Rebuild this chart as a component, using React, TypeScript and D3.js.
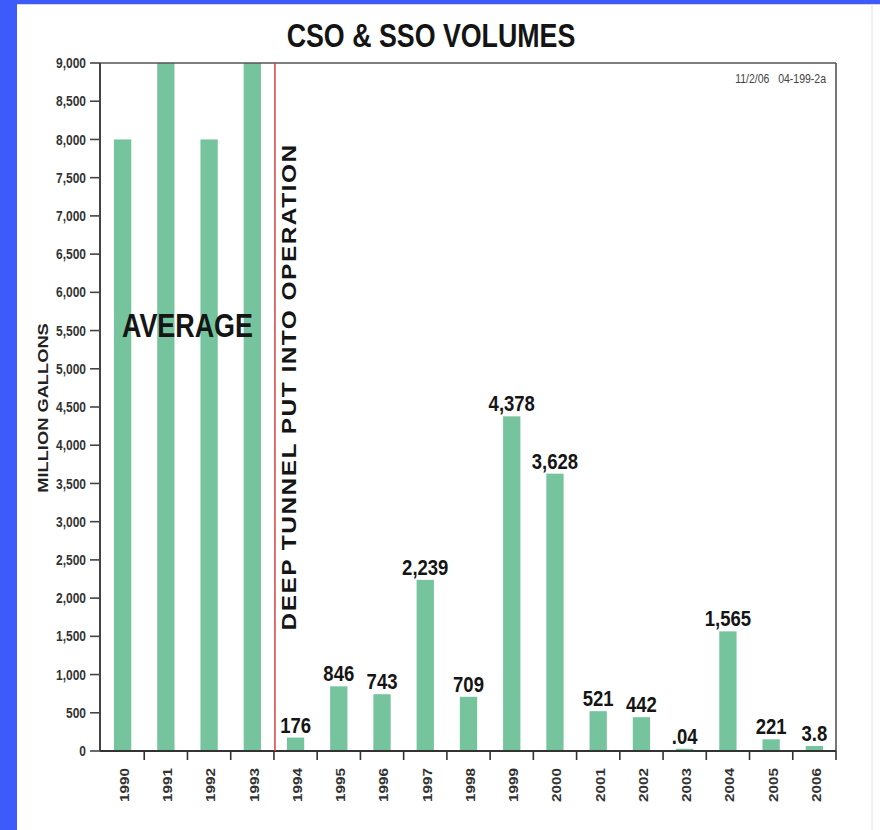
import React from "react";
import * as d3 from "d3";

const years = ["1990","1991","1992","1993","1994","1995","1996","1997","1998","1999","2000","2001","2002","2003","2004","2005","2006"];
const barValues = [8000, 9000, 8000, 9000, 176, 846, 743, 2239, 709, 4378, 3628, 521, 442, 30, 1565, 153, 65];
const valueLabels = ["", "", "", "", "176", "846", "743", "2,239", "709", "4,378", "3,628", "521", "442", ".04", "1,565", "221", "3.8"];
const yTicks = d3.range(0, 9001, 500);
const title = "CSO & SSO VOLUMES";
const yTitle = "MILLION GALLONS";
const eventLabel = "DEEP TUNNEL PUT INTO OPERATION";
const eventAfter = "1993";
const averageLabel = "AVERAGE";
const stamp = "11/2/06   04-199-2a";

const K = 1.22;
const FONT = "'Liberation Sans', Arial, Helvetica, sans-serif";

function T({ x, y, rot, children, ...rest }: any) {
  const tr = `translate(${x},${y}) scale(1,${K})${rot ? " rotate(-90)" : ""}`;
  return (
    <text transform={tr} fontFamily={FONT} {...rest}>
      {children}
    </text>
  );
}

export default function App() {
  const W = 880, H = 830;
  const left = 101, right = 836, top = 63, bottom = 751;
  const x = d3.scaleBand<string>().domain(years).range([left, right]).paddingInner(0.6).paddingOuter(0.3);
  const y = d3.scaleLinear().domain([0, 9000]).range([bottom, top]);
  const step = x.step();
  const boundaries = d3.range(1, years.length + 1).map((i) => left + i * step);
  const eventX = left + (years.indexOf(eventAfter) + 1) * step + 1;
  const fmt = d3.format(",");
  const avgCenter = (x(years[0])! + x(years[3])! + x.bandwidth()) / 2;

  return (
    <svg width={W} height={H} style={{ position: "absolute", left: 0, top: 0 }}>
      <rect x={0} y={0} width={W} height={H} fill="#3d5bfb" />
      <rect x={17} y={4} width={W} height={H} fill="#ffffff" />
      <line x1={17} x2={W} y1={4.5} y2={4.5} stroke="#d8d8d8" strokeWidth={1} />
      <line x1={872} x2={872} y1={4} y2={H} stroke="#e2e2e2" strokeWidth={1} />

      <T x={431} y={46.5} fontSize={26.8} fontWeight="bold" textAnchor="middle" fill="#141414">{title}</T>
      <T x={826} y={83} fontSize={10.5} textAnchor="end" fill="#444" style={{ whiteSpace: "pre" }}>{stamp}</T>

      {years.map((yr, i) => (
        <rect key={yr} x={x(yr)} y={y(barValues[i])} width={x.bandwidth()} height={bottom - y(barValues[i])} fill="#76c49d" />
      ))}

      {/* frame */}
      <line x1={left - 1} x2={right} y1={top} y2={top} stroke="#555" strokeWidth={1.6} />
      <line x1={right} x2={right} y1={top} y2={bottom} stroke="#555" strokeWidth={1.6} />
      <line x1={left - 1} x2={left - 1} y1={top} y2={bottom} stroke="#444" strokeWidth={2} />
      <line x1={left - 1} x2={right} y1={bottom} y2={bottom} stroke="#333" strokeWidth={2} />

      {yTicks.map((v) => (
        <g key={v}>
          <line x1={left - 11} x2={left - 1} y1={y(v)} y2={y(v)} stroke="#444" strokeWidth={1.6} />
          <T x={86} y={y(v)} dy="0.35em" fontSize={12} fontWeight="bold" textAnchor="end" fill="#333">{fmt(v)}</T>
        </g>
      ))}

      {boundaries.map((b, i) => (
        <line key={i} x1={b} x2={b} y1={bottom} y2={bottom + 9} stroke="#333" strokeWidth={1.6} />
      ))}

      {years.map((yr) => (
        <T key={yr} x={x(yr)! + x.bandwidth() / 2 + 2} y={768} rot dy="0.35em" fontSize={12.5} fontWeight="bold" textAnchor="end" fill="#333">{yr}</T>
      ))}

      <line x1={eventX} x2={eventX} y1={top} y2={bottom} stroke="#d9413f" strokeWidth={1.5} />
      <T x={296} y={387} rot fontSize={20} fontWeight="bold" textAnchor="middle" fill="#151515" letterSpacing={1.25}>{eventLabel}</T>

      <T x={48} y={408} rot fontSize={15} fontWeight="bold" textAnchor="middle" fill="#222">{yTitle}</T>

      <T x={avgCenter} y={337} fontSize={26.9} fontWeight="bold" textAnchor="middle" fill="#151515">{averageLabel}</T>

      {years.map((yr, i) =>
        valueLabels[i] ? (
          <T key={"l" + yr} x={x(yr)! + x.bandwidth() / 2} y={y(barValues[i]) - 5} fontSize={18.5} fontWeight="bold" textAnchor="middle" fill="#151515">{valueLabels[i]}</T>
        ) : null
      )}
    </svg>
  );
}
